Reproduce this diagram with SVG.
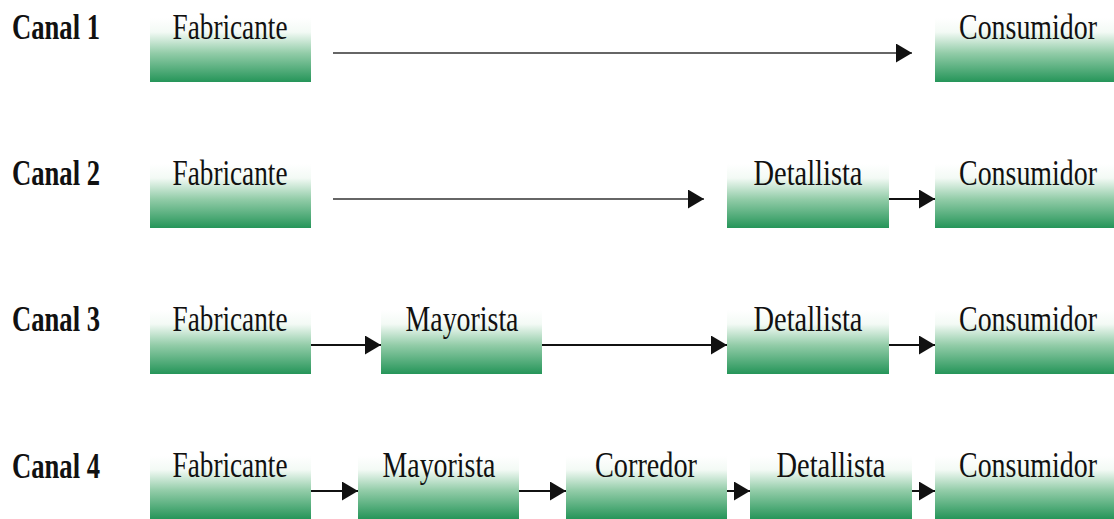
<svg xmlns="http://www.w3.org/2000/svg" width="1114" height="519" viewBox="0 0 1114 519">
<defs>
<linearGradient id="g" x1="0" y1="0" x2="0" y2="1">
<stop offset="0" stop-color="#ffffff"/>
<stop offset="0.22" stop-color="#f3faf5"/>
<stop offset="0.55" stop-color="#92cca8"/>
<stop offset="1" stop-color="#259559"/>
</linearGradient>
<marker id="ah" markerUnits="userSpaceOnUse" markerWidth="17" markerHeight="19" refX="16" refY="9.5" orient="auto">
<path d="M0,0 L16,9.5 L0,19 z" fill="#111"/>
</marker>
<style>
.box{fill:url(#g)}
.t{font-family:"Liberation Serif","Times New Roman",serif;font-size:36px;fill:#111;text-anchor:middle}
.c{font-family:"Liberation Serif","Times New Roman",serif;font-size:36px;font-weight:bold;fill:#111}
.ln{stroke:#111;stroke-width:2;fill:none;marker-end:url(#ah)}
.lt{stroke:#333;stroke-width:1.6;fill:none;marker-end:url(#ah)}
</style>
</defs>
<rect width="1114" height="519" fill="#fff"/>
<g id="labels">
<text class="c" transform="translate(12,39) scale(0.74,1)">Canal 1</text>
<text class="c" transform="translate(12,185) scale(0.74,1)">Canal 2</text>
<text class="c" transform="translate(12,331) scale(0.74,1)">Canal 3</text>
<text class="c" transform="translate(12,478) scale(0.74,1)">Canal 4</text>
</g>
<g id="connectors">
<line class="lt" x1="333" y1="53" x2="912" y2="53"/>
<line class="lt" x1="333" y1="199" x2="704" y2="199"/>
<line class="ln" x1="889" y1="199" x2="935" y2="199"/>
<line class="ln" x1="311" y1="345" x2="381" y2="345"/>
<line class="ln" x1="542" y1="345" x2="727" y2="345"/>
<line class="ln" x1="889" y1="345" x2="935" y2="345"/>
<line class="ln" x1="311" y1="491" x2="358" y2="491"/>
<line class="ln" x1="519" y1="491" x2="566" y2="491"/>
<line class="ln" x1="727" y1="491" x2="750" y2="491"/>
<line class="ln" x1="912" y1="491" x2="935" y2="491"/>
</g>
<g id="r1-fabricante"><rect class="box" x="150" y="18" width="161" height="64"/><text class="t" transform="translate(230,39) scale(0.757,1)">Fabricante</text></g>
<g id="r1-consumidor"><rect class="box" x="935" y="18" width="179" height="64"/><text class="t" transform="translate(1028,39) scale(0.775,1)">Consumidor</text></g>
<g id="r2-fabricante"><rect class="box" x="150" y="164" width="161" height="64"/><text class="t" transform="translate(230,185) scale(0.757,1)">Fabricante</text></g>
<g id="r2-detallista"><rect class="box" x="727" y="164" width="162" height="64"/><text class="t" transform="translate(808,185) scale(0.79,1)">Detallista</text></g>
<g id="r2-consumidor"><rect class="box" x="935" y="164" width="179" height="64"/><text class="t" transform="translate(1028,185) scale(0.775,1)">Consumidor</text></g>
<g id="r3-fabricante"><rect class="box" x="150" y="310" width="161" height="64"/><text class="t" transform="translate(230,331) scale(0.757,1)">Fabricante</text></g>
<g id="r3-mayorista"><rect class="box" x="381" y="310" width="161" height="64"/><text class="t" transform="translate(462,331) scale(0.774,1)">Mayorista</text></g>
<g id="r3-detallista"><rect class="box" x="727" y="310" width="162" height="64"/><text class="t" transform="translate(808,331) scale(0.79,1)">Detallista</text></g>
<g id="r3-consumidor"><rect class="box" x="935" y="310" width="179" height="64"/><text class="t" transform="translate(1028,331) scale(0.775,1)">Consumidor</text></g>
<g id="r4-fabricante"><rect class="box" x="150" y="456" width="161" height="63"/><text class="t" transform="translate(230,477) scale(0.757,1)">Fabricante</text></g>
<g id="r4-mayorista"><rect class="box" x="358" y="456" width="161" height="63"/><text class="t" transform="translate(439,477) scale(0.774,1)">Mayorista</text></g>
<g id="r4-corredor"><rect class="box" x="566" y="456" width="161" height="63"/><text class="t" transform="translate(646,477) scale(0.785,1)">Corredor</text></g>
<g id="r4-detallista"><rect class="box" x="750" y="456" width="162" height="63"/><text class="t" transform="translate(831,477) scale(0.79,1)">Detallista</text></g>
<g id="r4-consumidor"><rect class="box" x="935" y="456" width="179" height="63"/><text class="t" transform="translate(1028,477) scale(0.775,1)">Consumidor</text></g>
</svg>
